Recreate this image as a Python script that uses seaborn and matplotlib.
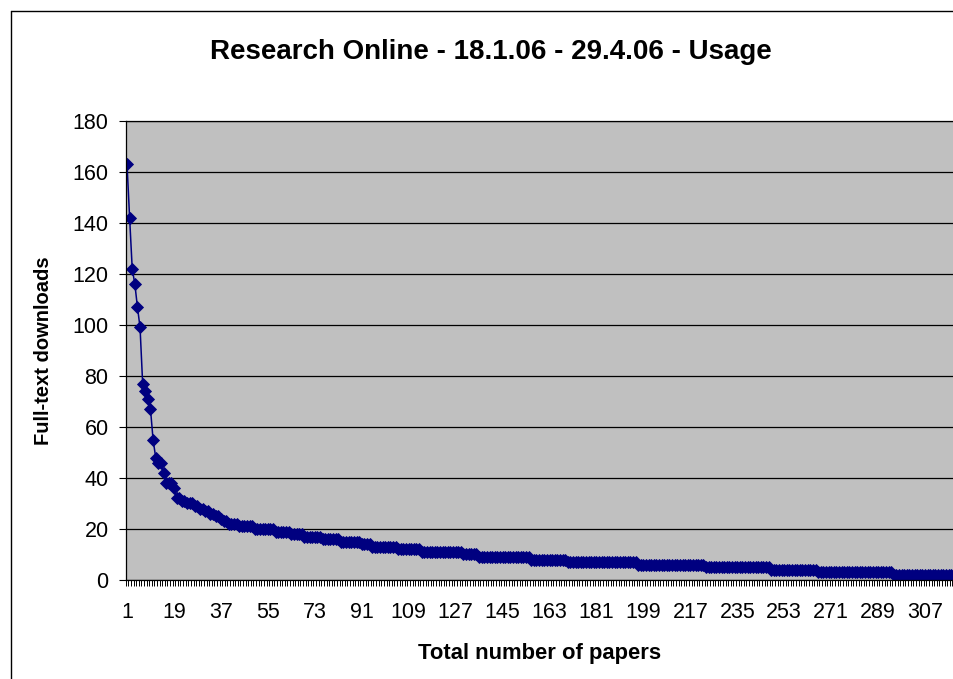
"""Recreate the Research Online usage chart (downloads per paper, ranked)."""

import matplotlib

matplotlib.use("Agg")
import matplotlib.pyplot as plt
import numpy as np
import seaborn as sns
from matplotlib.lines import Line2D
from matplotlib.ticker import FixedLocator, NullFormatter

TITLE = "Research Online - 18.1.06 - 29.4.06 - Usage"
X_LABEL = "Total number of papers"
Y_LABEL = "Full-text downloads"

# downloads of the most used papers, one value per paper
HEAD_DOWNLOADS = [
    163, 142, 122, 116, 107, 99, 77, 74, 71, 67,
    55, 48, 46, 46, 42, 38, 38, 38, 36, 32,
    32, 31, 31, 30, 30, 30, 29, 29, 28, 28,
    27, 27, 26, 26, 25, 25, 24, 23, 23, 22,
    22, 22, 22, 21, 21, 21, 21, 21, 21,
]
# long tail read as plateaus: download level and number of papers on it
TAIL_LEVELS = [20, 19, 18, 17, 16, 15, 14, 13, 12, 11, 10, 9, 8, 7, 6, 5, 4, 3, 2]
TAIL_COUNTS = [8, 6, 5, 7, 7, 8, 4, 10, 9, 16, 6, 20, 14, 27, 26, 25, 18, 29, 24]

X_TICKS = [1, 19, 37, 55, 73, 91, 109, 127, 145, 163, 181, 199, 217, 235, 253, 271, 289, 307]
Y_TICKS = [0, 20, 40, 60, 80, 100, 120, 140, 160, 180]

LINE_COLOR = "#000080"
PLOT_BG = "#C0C0C0"
FONT = ["Liberation Sans", "DejaVu Sans"]


def main() -> None:
    downloads = np.concatenate([HEAD_DOWNLOADS, np.repeat(TAIL_LEVELS, TAIL_COUNTS)])
    papers = np.arange(1, len(downloads) + 1)

    sns.set_theme(style="white")
    plt.rcParams["font.family"] = FONT
    plt.rcParams.update({
        "text.color": "black",
        "axes.labelcolor": "black",
        "xtick.color": "black",
        "ytick.color": "black",
    })

    figure = plt.figure(figsize=(9.54, 6.79), dpi=100)
    axis = figure.add_axes([125.7 / 954, 99 / 679, 1 - 125.7 / 954, 459.3 / 679])
    axis.set_facecolor(PLOT_BG)

    sns.lineplot(
        x=papers,
        y=downloads,
        color=LINE_COLOR,
        linewidth=1.1,
        marker="D",
        markersize=6.5,
        markeredgecolor=LINE_COLOR,
        markeredgewidth=0.6,
        ax=axis,
    )

    axis.set_xlim(0.5, 0.5 + (954 - 125.7) / 2.608)
    axis.set_ylim(0, 180)
    axis.set_yticks(Y_TICKS)
    axis.yaxis.grid(True, color="black", linewidth=0.9)
    axis.set_axisbelow(True)

    axis.set_xticks(X_TICKS)
    axis.set_xticklabels([str(t) for t in X_TICKS])
    axis.xaxis.set_minor_locator(FixedLocator(np.arange(0.5, len(papers) + 0.5, 1)))
    axis.xaxis.set_minor_formatter(NullFormatter())
    axis.tick_params(axis="x", which="major", length=0, pad=16, labelsize=15.5)
    axis.tick_params(axis="x", which="minor", bottom=True, length=4.3, width=0.7,
                     color="black", direction="out")
    axis.tick_params(axis="y", left=True, length=5.3, width=0.8, color="black",
                     direction="out", pad=7, labelsize=15.5)

    for side in ("left", "bottom", "top"):
        axis.spines[side].set_visible(True)
        axis.spines[side].set_color("black")
        axis.spines[side].set_linewidth(0.9)
    axis.spines["right"].set_visible(False)

    axis.set_xlabel(X_LABEL, fontsize=15.8, fontweight="bold", labelpad=14)
    axis.set_ylabel(Y_LABEL, fontsize=14.5, fontweight="bold", labelpad=14)

    figure.text(490.5 / 954, 1 - 52 / 679, TITLE, ha="center", va="center",
                fontsize=20, fontweight="bold")

    # chart frame: only its left and top edges fall inside the picture
    left, top = 11 / 954, 1 - 11 / 679
    figure.add_artist(Line2D([left, left], [0, top], transform=figure.transFigure,
                             color="black", linewidth=1.0))
    figure.add_artist(Line2D([left, 1], [top, top], transform=figure.transFigure,
                             color="black", linewidth=1.0))

    figure.savefig("out.png", dpi=100, facecolor="white")
    plt.close(figure)


if __name__ == "__main__":
    main()
